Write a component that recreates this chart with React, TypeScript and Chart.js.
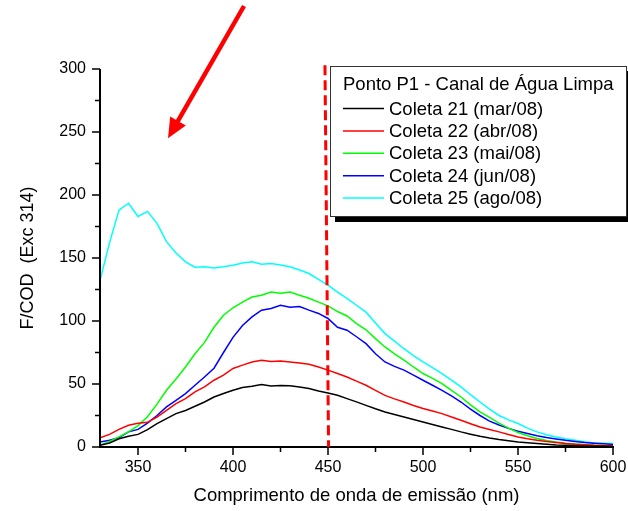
import React, { useEffect, useRef } from "react";
import { Chart, registerables } from "chart.js";

Chart.register(...registerables);

// ---- data ----
const wavelengths = [
  330, 335, 340, 345, 350, 355, 360, 365, 370, 375,
  380, 385, 390, 395, 400, 405, 410, 415, 420, 425,
  430, 435, 440, 445, 450, 455, 460, 465, 470, 475,
  480, 485, 490, 495, 500, 505, 510, 515, 520, 525,
  530, 535, 540, 545, 550, 555, 560, 565, 570, 575,
  580, 585, 590, 595, 600,
];

const coleta21 = [
  1.3, 3.2, 6.5, 8.5, 10, 13.8, 18.6, 22.5, 26.5, 29,
  32.3, 35.7, 39.7, 42.4, 45, 47.2, 48.2, 49.5, 48.5, 48.8,
  48.6, 47.7, 46.4, 44.5, 42.9, 41, 38.4, 35.8, 33, 30.3,
  27.8, 25.8, 23.8, 21.8, 19.9, 17.9, 15.9, 14, 12, 10.2,
  8.5, 7.1, 5.9, 4.9, 4, 3.3, 2.7, 2.1, 1.6, 1.3,
  1, 0.8, 0.6, 0.5, 0.4,
];

const coleta22 = [
  7.4, 10, 14, 17.2, 18.8, 19.6, 23.8, 29, 34.4, 38.4,
  43.7, 47.7, 53, 57, 62.3, 65, 67.5, 68.9, 67.8, 68.2,
  67.4, 66.7, 65.7, 63.5, 61, 58.3, 55.6, 52.3, 49, 45,
  41, 38.2, 35.7, 33, 30.5, 28.5, 26.5, 23.8, 21.2, 18.5,
  15.9, 13.9, 12, 9.9, 8, 6.5, 5.3, 4.3, 3.5, 2.7,
  2.1, 1.7, 1.3, 1.1, 1,
];

const coleta23 = [
  1.3, 4.5, 8, 12, 17, 24, 34, 45, 54, 63.5,
  74, 83, 95, 104.6, 110.5, 115, 119, 120.5, 123, 122,
  123, 120.5, 118, 115, 112, 107.5, 104, 98, 93, 86,
  79.4, 74, 69, 63.5, 58.3, 54.5, 50.3, 45, 39.7, 33.5,
  27.8, 23.5, 19, 15, 11.5, 9, 6.8, 5.2, 4, 3,
  2.3, 1.8, 1.3, 1.1, 1,
];

const coleta24 = [
  4, 5.3, 7.4, 12, 14, 19, 25, 31.8, 37, 42.4,
  49, 55.6, 62.5, 75, 87, 96.5, 103.3, 108.6, 110, 112.5,
  111, 111.5, 108.6, 106, 102, 95, 92.7, 87.5, 82, 74,
  67.5, 64, 61, 57, 53, 49, 45, 40.5, 35.7, 30,
  25, 20.5, 17.5, 14.8, 12.5, 10.7, 9, 7.6, 6.4, 5.3,
  4.4, 3.6, 3, 2.5, 2,
];

const coleta25 = [
  132, 162, 188, 193.5, 183, 187, 177.5, 163, 154, 147,
  142.7, 143, 142, 143, 144.3, 146, 147, 145, 145.7, 144.5,
  143, 140.5, 137.7, 133, 128.4, 123, 118, 112.5, 107, 98.5,
  90, 84, 78, 72.5, 67.5, 63, 58.3, 53, 47.7, 41.5,
  35.7, 30, 25, 21.5, 18.6, 15, 12, 9.8, 8, 6.5,
  5.3, 4.2, 3.2, 2.9, 2.7,
];

const seriesLabels = [
  "Coleta 21 (mar/08)",
  "Coleta 22 (abr/08)",
  "Coleta 23 (mai/08)",
  "Coleta 24 (jun/08)",
  "Coleta 25 (ago/08)",
];
const seriesColors = ["#000000", "#ff0000", "#00ff00", "#0000ff", "#00ffff"];
const seriesValues = [coleta21, coleta22, coleta23, coleta24, coleta25];

const legendTitle = "Ponto P1 - Canal de Água Limpa";
const xTitle = "Comprimento de onda de emissão (nm)";
const yTitle = "F/COD  (Exc 314)";

const xMajorTicks = [350, 400, 450, 500, 550, 600];
const xMinorTicks = [375, 425, 475, 525, 575];
const yMajorTicks = [0, 50, 100, 150, 200, 250, 300];
const yMinorTicks = [25, 75, 125, 175, 225, 275];

// dashed marker line (top and bottom points, in data units)
const markerLine = { xTop: 448.4, yTop: 303, xBottom: 450.3, yBottom: 0 };
// arrow annotation (tail -> tip, in data units)
const arrowPts = { x1: 405.8, y1: 350, x2: 365.8, y2: 245 };

const FONT = '"Liberation Sans", Arial, Helvetica, sans-serif';

const overlayPlugin = {
  id: "overlay",
  afterDatasetsDraw(chart: any) {
    const { ctx, chartArea, scales } = chart;
    const xs = scales.x;
    const ys = scales.y;
    ctx.save();
    // axes
    ctx.strokeStyle = "#000";
    ctx.lineWidth = 2;
    ctx.lineCap = "butt";
    const x0 = chartArea.left;
    const yb = ys.getPixelForValue(0);
    ctx.beginPath();
    ctx.moveTo(x0, chartArea.top);
    ctx.lineTo(x0, yb + 1);
    ctx.moveTo(x0 - 1, yb);
    ctx.lineTo(xs.getPixelForValue(600) + 1, yb);
    ctx.stroke();
    // ticks
    ctx.lineWidth = 1.5;
    ctx.beginPath();
    yMajorTicks.forEach((v) => {
      const p = ys.getPixelForValue(v);
      ctx.moveTo(x0 - 8, p);
      ctx.lineTo(x0, p);
    });
    yMinorTicks.forEach((v) => {
      const p = ys.getPixelForValue(v);
      ctx.moveTo(x0 - 5, p);
      ctx.lineTo(x0, p);
    });
    xMajorTicks.forEach((v) => {
      const p = xs.getPixelForValue(v);
      ctx.moveTo(p, yb);
      ctx.lineTo(p, yb + 8);
    });
    xMinorTicks.forEach((v) => {
      const p = xs.getPixelForValue(v);
      ctx.moveTo(p, yb);
      ctx.lineTo(p, yb + 5);
    });
    ctx.stroke();

    // dashed red line
    ctx.strokeStyle = "#ff0000";
    ctx.lineWidth = 3;
    ctx.setLineDash([10, 5]);
    ctx.beginPath();
    ctx.moveTo(xs.getPixelForValue(markerLine.xTop), ys.getPixelForValue(markerLine.yTop));
    ctx.lineTo(xs.getPixelForValue(markerLine.xBottom), ys.getPixelForValue(markerLine.yBottom));
    ctx.stroke();
    ctx.setLineDash([]);

    // arrow
    const ax1 = xs.getPixelForValue(arrowPts.x1);
    const ay1 = ys.getPixelForValue(arrowPts.y1);
    const ax2 = xs.getPixelForValue(arrowPts.x2);
    const ay2 = ys.getPixelForValue(arrowPts.y2);
    const ang = Math.atan2(ay2 - ay1, ax2 - ax1);
    const headLen = 20;
    const headHalf = 9;
    const bx = ax2 - headLen * Math.cos(ang);
    const by = ay2 - headLen * Math.sin(ang);
    ctx.strokeStyle = "#ff0000";
    ctx.fillStyle = "#ff0000";
    ctx.lineWidth = 4.5;
    ctx.beginPath();
    ctx.moveTo(ax1, ay1);
    ctx.lineTo(bx + 2 * Math.cos(ang), by + 2 * Math.sin(ang));
    ctx.stroke();
    ctx.beginPath();
    ctx.moveTo(ax2, ay2);
    ctx.lineTo(bx + headHalf * Math.sin(ang), by - headHalf * Math.cos(ang));
    ctx.lineTo(bx - headHalf * Math.sin(ang), by + headHalf * Math.cos(ang));
    ctx.closePath();
    ctx.fill();

    // legend box
    const lx = 330, ly = 66, lw = 297, lh = 151;
    ctx.fillStyle = "#000";
    ctx.fillRect(lx + 5, ly + 5, lw, lh);
    ctx.fillStyle = "#fff";
    ctx.fillRect(lx, ly, lw, lh);
    ctx.strokeStyle = "#333";
    ctx.lineWidth = 1;
    ctx.strokeRect(lx + 0.5, ly + 0.5, lw - 1, lh - 1);
    ctx.font = "18.5px " + FONT;
    ctx.textBaseline = "middle";
    ctx.textAlign = "left";
    ctx.fillStyle = "#000";
    ctx.fillText(legendTitle, lx + 13, ly + 19);
    chart.data.datasets.forEach((ds: any, i: number) => {
      const ry = ly + 42.5 + i * 22.4;
      ctx.strokeStyle = ds.borderColor;
      ctx.lineWidth = 1.5;
      ctx.beginPath();
      ctx.moveTo(lx + 13, ry);
      ctx.lineTo(lx + 54, ry);
      ctx.stroke();
      ctx.fillStyle = "#000";
      ctx.fillText(ds.label, lx + 59, ry + 1);
    });
    ctx.restore();
  },
};

export default function App() {
  const ref = useRef<HTMLCanvasElement | null>(null);
  useEffect(() => {
    if (!ref.current) return;
    const chart = new Chart(ref.current, {
      type: "line",
      data: {
        datasets: seriesValues.map((vals, i) => ({
          label: seriesLabels[i],
          data: vals.map((v, j) => ({ x: wavelengths[j], y: v })),
          borderColor: seriesColors[i],
          backgroundColor: seriesColors[i],
          borderWidth: 1.5,
          pointRadius: 0,
          tension: 0,
          fill: false,
        })),
      },
      options: {
        responsive: false,
        animation: false,
        layout: { padding: { left: 0, top: 69, right: 15, bottom: 0 } },
        plugins: { legend: { display: false }, tooltip: { enabled: false } },
        scales: {
          x: {
            type: "linear",
            min: 330,
            max: 600,
            afterBuildTicks: (s: any) => {
              s.ticks = xMajorTicks.map((v) => ({ value: v }));
            },
            afterFit: (s: any) => {
              s.height = 64;
              s.paddingLeft = 0;
              s.paddingRight = 0;
            },
            grid: { display: false, drawTicks: false },
            border: { display: false },
            ticks: {
              padding: 11,
              maxRotation: 0,
              color: "#000",
              font: { size: 16, family: FONT },
              callback: (v: any) => String(v),
            },
            title: {
              display: true,
              text: xTitle,
              color: "#000",
              font: { size: 18.5, family: FONT },
              padding: { top: 0, bottom: 4 },
            },
          },
          y: {
            min: 0,
            max: 300,
            afterBuildTicks: (s: any) => {
              s.ticks = yMajorTicks.map((v) => ({ value: v }));
            },
            afterFit: (s: any) => {
              s.width = 100;
              s.paddingTop = 0;
              s.paddingBottom = 0;
            },
            grid: { display: false, drawTicks: false },
            border: { display: false },
            ticks: {
              padding: 14,
              color: "#000",
              font: { size: 16, family: FONT },
              callback: (v: any) => String(v),
            },
            title: {
              display: true,
              text: yTitle,
              color: "#000",
              font: { size: 18, family: FONT },
              padding: { top: 17, bottom: 0 },
            },
          },
        },
      },
      plugins: [overlayPlugin],
    });
    return () => chart.destroy();
  }, []);
  return (
    <div style={{ position: "absolute", left: 0, top: 0, width: 628, height: 511, background: "#fff" }}>
      <canvas ref={ref} width={628} height={511} style={{ display: "block" }} />
    </div>
  );
}
